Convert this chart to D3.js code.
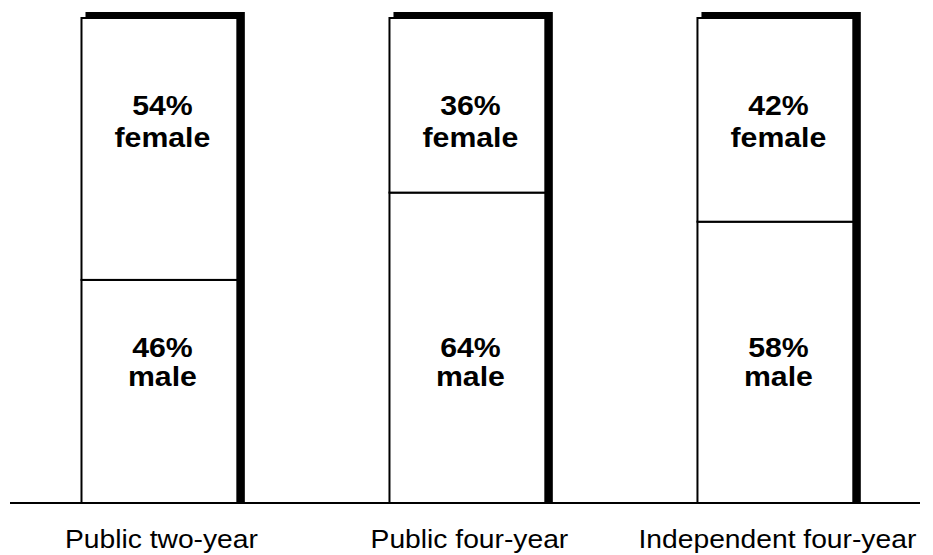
<!DOCTYPE html>
<html>
<head>
<meta charset="utf-8">
<script src="https://cdn.jsdelivr.net/npm/d3@7"></script>
<style>
  html, body { margin: 0; padding: 0; background: #fff; }
  svg { display: block; }
  text { font-family: "Liberation Sans", Arial, Helvetica, sans-serif; fill: #000; }
</style>
</head>
<body>
<script>
// ---- data ----
const categories = ["Public two-year", "Public four-year", "Independent four-year"];
const maleShare = [46, 64, 58];
const femaleShare = [54, 36, 42];
const maleLabel = "male";
const femaleLabel = "female";

// ---- layout ----
const W = 933, H = 555;
const svg = d3.select("body").append("svg").attr("width", W).attr("height", H);

const x = d3.scaleBand().domain(categories).range([4.5, 930.3])
  .paddingInner(0.494).paddingOuter(0.25);
const y = d3.scaleLinear().domain([0, 100]).range([503, 18]);

const rows = categories.map((c, i) => ({
  cat: c, male: maleShare[i], female: femaleShare[i]
}));

const g = svg.append("g");

// shadow (thick top and right edge)
g.selectAll("rect.shadow").data(rows).enter().append("rect")
  .attr("class", "shadow")
  .attr("x", d => x(d.cat) + 4)
  .attr("y", y(100) - 6)
  .attr("width", x.bandwidth() + 3.5)
  .attr("height", y(0) - y(100) + 6)
  .attr("fill", "#000");

// male segment
g.selectAll("rect.male").data(rows).enter().append("rect")
  .attr("class", "male")
  .attr("x", d => x(d.cat))
  .attr("y", d => y(d.male))
  .attr("width", x.bandwidth())
  .attr("height", d => y(0) - y(d.male))
  .attr("fill", "#fff").attr("stroke", "#000").attr("stroke-width", 2);

// female segment
g.selectAll("rect.female").data(rows).enter().append("rect")
  .attr("class", "female")
  .attr("x", d => x(d.cat))
  .attr("y", y(100))
  .attr("width", x.bandwidth())
  .attr("height", d => y(d.male) - y(100))
  .attr("fill", "#fff").attr("stroke", "#000").attr("stroke-width", 2);

// baseline
svg.append("line")
  .attr("x1", 10).attr("x2", 920)
  .attr("y1", y(0)).attr("y2", y(0))
  .attr("stroke", "#000").attr("stroke-width", 2);

// segment labels
const cx = d => x(d.cat) + x.bandwidth() / 2 + 3;
function addLab(yPos, fn) {
  g.selectAll(null).data(rows).enter().append("text")
    .attr("transform", d => `translate(${cx(d)},${yPos}) scale(1.08,1)`)
    .attr("text-anchor", "middle").attr("font-size", 28).attr("font-weight", "bold")
    .text(fn);
}
addLab(115, d => d.female + "%");
addLab(147, () => femaleLabel);
addLab(357, d => d.male + "%");
addLab(386, () => maleLabel);

// category labels
svg.selectAll("text.cat").data(categories).enter().append("text")
  .attr("class", "cat")
  .attr("transform", d => `translate(${x(d) + x.bandwidth() / 2 + 2},548) scale(1.13,1)`)
  .attr("text-anchor", "middle")
  .attr("font-size", 25)
  .text(d => d);
</script>
</body>
</html>
